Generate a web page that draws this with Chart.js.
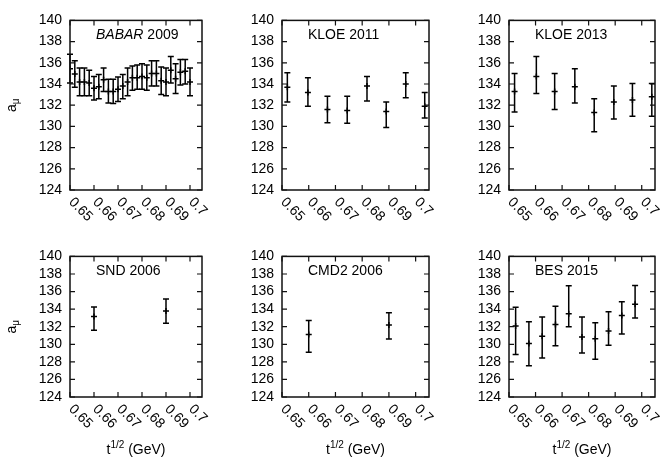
<!DOCTYPE html>
<html>
<head>
<meta charset="utf-8">
<script src="https://cdn.jsdelivr.net/npm/chart.js@4/dist/chart.umd.min.js"></script>
<style>
  html, body { margin: 0; padding: 0; background: #fff; }
  #wrap { position: relative; width: 663px; height: 457px; overflow: hidden; }
  #wrap canvas { position: absolute; }
</style>
</head>
<body>
<div id="wrap"></div>
<script>
// axis ticks
const xTicks = [0.65, 0.66, 0.67, 0.68, 0.69, 0.70];
const xTickLabels = ['0.65', '0.66', '0.67', '0.68', '0.69', '0.7'];
const yTicks = [124, 126, 128, 130, 132, 134, 136, 138, 140];

// panel titles (italic part + plain part)
const titleItalic = ['BABAR', '', '', '', '', ''];
const titlePlain = [' 2009', 'KLOE 2011', 'KLOE 2013', 'SND 2006', 'CMD2 2006', 'BES 2015'];

// BABAR 2009
const babarX = [0.650, 0.652, 0.654, 0.656, 0.658, 0.660, 0.662, 0.664, 0.666, 0.668, 0.670, 0.672, 0.674,
                0.676, 0.678, 0.680, 0.682, 0.684, 0.686, 0.688, 0.690, 0.692, 0.694, 0.696, 0.698, 0.700];
const babarY = [135.45, 134.95, 134.2, 134.2, 134.1, 133.6, 133.75, 134.4, 133.3, 133.3, 133.5, 133.8, 134.2,
                134.6, 134.6, 134.7, 134.6, 135.0, 135.0, 134.3, 134.2, 135.3, 134.5, 135.1, 135.2, 134.2];
const babarLo = [134.1, 133.7, 132.9, 132.9, 132.9, 132.5, 132.6, 133.3, 132.2, 132.15, 132.35, 132.6, 132.9,
                 133.4, 133.5, 133.5, 133.4, 133.8, 133.8, 133.0, 132.9, 134.1, 133.1, 133.9, 134.0, 132.9];
const babarHi = [136.8, 136.2, 135.5, 135.5, 135.3, 134.7, 134.9, 135.5, 134.45, 134.45, 134.65, 134.9, 135.5,
                 135.7, 135.8, 135.9, 135.8, 136.2, 136.2, 135.6, 135.5, 136.6, 135.9, 136.3, 136.3, 135.5];

// KLOE 2011
const kloe11X = [0.6520, 0.6597, 0.6670, 0.6744, 0.6818, 0.6890, 0.6963, 0.7034];
const kloe11Y = [133.7, 133.2, 131.6, 131.5, 133.8, 131.4, 134.0, 131.9];
const kloe11Lo = [132.3, 131.9, 130.35, 130.3, 132.4, 129.9, 132.7, 130.8];
const kloe11Hi = [135.05, 134.6, 132.85, 132.85, 134.7, 132.3, 135.05, 133.2];

// KLOE 2013
const kloe13X = [0.6521, 0.6603, 0.6672, 0.6748, 0.6821, 0.6895, 0.6965, 0.7038];
const kloe13Y = [133.3, 134.7, 133.3, 133.75, 131.3, 132.3, 132.5, 132.8];
const kloe13Lo = [131.35, 133.1, 131.6, 132.2, 129.5, 130.7, 130.95, 130.95];
const kloe13Hi = [135.0, 136.6, 135.0, 135.45, 132.6, 133.8, 134.05, 134.05];

// SND 2006
const sndX = [0.660, 0.690];
const sndY = [133.15, 133.8];
const sndLo = [131.6, 132.4];
const sndHi = [134.25, 135.15];

// CMD2 2006
const cmdX = [0.660, 0.690];
const cmdY = [131.1, 132.2];
const cmdLo = [129.1, 130.6];
const cmdHi = [132.7, 133.6];

// BES 2015
const besX = [0.6525, 0.6575, 0.6625, 0.6675, 0.6725, 0.6775, 0.6825, 0.6875, 0.6925, 0.6975];
const besY = [132.07, 130.08, 130.9, 132.26, 133.46, 130.84, 130.62, 131.5, 133.27, 134.55];
const besLo = [128.85, 127.57, 128.44, 129.82, 132.0, 129.0, 128.3, 129.9, 131.17, 132.98];
const besHi = [134.2, 132.55, 133.1, 134.33, 136.65, 133.1, 132.44, 133.7, 134.84, 136.69];

const FONT = '"Liberation Sans", Arial, Helvetica, sans-serif';
const wrap = document.getElementById('wrap');

function makeDecor(idx, xv, lo, hi, yTitle, xTitle) {
  return {
    id: 'decor' + idx,
    beforeDatasetsDraw(chart) {
      const { ctx } = chart;
      const xs = chart.scales.x, ys = chart.scales.y;
      ctx.save();
      ctx.strokeStyle = '#000';
      ctx.lineWidth = 1.5;
      xv.forEach((x, i) => {
        const px = xs.getPixelForValue(x);
        const p1 = ys.getPixelForValue(lo[i]);
        const p2 = ys.getPixelForValue(hi[i]);
        ctx.beginPath();
        ctx.moveTo(px, p1); ctx.lineTo(px, p2);
        ctx.moveTo(px - 3, p1); ctx.lineTo(px + 3, p1);
        ctx.moveTo(px - 3, p2); ctx.lineTo(px + 3, p2);
        ctx.stroke();
      });
      ctx.restore();
    },
    afterDraw(chart) {
      const { ctx, chartArea: a } = chart;
      const xs = chart.scales.x, ys = chart.scales.y;
      ctx.save();
      // frame
      ctx.strokeStyle = '#111';
      ctx.lineWidth = 1.5;
      ctx.strokeRect(a.left, a.top, a.right - a.left, a.bottom - a.top);
      // inward ticks
      ctx.lineWidth = 1.2;
      ctx.beginPath();
      yTicks.forEach(v => {
        const py = ys.getPixelForValue(v);
        ctx.moveTo(a.left, py); ctx.lineTo(a.left + 5, py);
        ctx.moveTo(a.right, py); ctx.lineTo(a.right - 5, py);
      });
      xTicks.forEach(v => {
        const px = xs.getPixelForValue(v);
        ctx.moveTo(px, a.bottom); ctx.lineTo(px, a.bottom - 5);
        ctx.moveTo(px, a.top); ctx.lineTo(px, a.top + 5);
      });
      ctx.stroke();
      // rotated x tick labels
      ctx.fillStyle = '#000';
      ctx.font = '14px ' + FONT;
      ctx.textAlign = 'left';
      ctx.textBaseline = 'top';
      xTicks.forEach((v, i) => {
        const px = xs.getPixelForValue(v);
        ctx.save();
        ctx.translate(px + 6, a.bottom + 5);
        ctx.rotate(Math.PI / 4);
        ctx.fillText(xTickLabels[i], 0, 0);
        ctx.restore();
      });
      // panel title
      ctx.textBaseline = 'alphabetic';
      let tx = a.left + 26;
      const ty = a.top + 19;
      if (titleItalic[idx]) {
        ctx.font = 'italic 14px ' + FONT;
        ctx.fillText(titleItalic[idx], tx, ty);
        tx += ctx.measureText(titleItalic[idx]).width;
      }
      ctx.font = '14px ' + FONT;
      ctx.fillText(titlePlain[idx], tx, ty);
      // y title a_mu
      if (yTitle) {
        const cy = (a.top + a.bottom) / 2;
        ctx.save();
        ctx.translate(16, cy);
        ctx.rotate(-Math.PI / 2);
        ctx.font = '14px ' + FONT;
        const wa = ctx.measureText('a').width;
        ctx.font = '10px ' + FONT;
        const wm = ctx.measureText('\u03bc').width;
        const sx = -(wa + wm) / 2;
        ctx.font = '14px ' + FONT;
        ctx.fillText('a', sx, 0);
        ctx.font = '10px ' + FONT;
        ctx.fillText('\u03bc', sx + wa, 3);
        ctx.restore();
      }
      // x title t^{1/2} (GeV)
      if (xTitle) {
        ctx.font = '14px ' + FONT;
        const w1 = ctx.measureText('t').width;
        const w3 = ctx.measureText(' (GeV)').width;
        ctx.font = '10px ' + FONT;
        const w2 = ctx.measureText('1/2').width;
        let sx = (a.left + a.right) / 2 - (w1 + w2 + w3) / 2;
        const by = 454 - chart.canvas.offsetTop;
        ctx.font = '14px ' + FONT;
        ctx.fillText('t', sx, by);
        ctx.font = '10px ' + FONT;
        ctx.fillText('1/2', sx + w1, by - 6);
        ctx.font = '14px ' + FONT;
        ctx.fillText(' (GeV)', sx + w1 + w2, by);
      }
      ctx.restore();
    }
  };
}

function makePanel(idx, box, xv, yv, lo, hi) {
  const padL = box.l >= 100 ? 60 : box.l;
  const padR = 8, padT = 10;
  const padB = box.t > 200 ? 457 - box.b : 50;
  const cv = document.createElement('canvas');
  const w = box.r - box.l + padL + padR;
  const h = box.b - box.t + padT + padB;
  cv.width = w; cv.height = h;
  cv.style.left = (box.l - padL) + 'px';
  cv.style.top = (box.t - padT) + 'px';
  cv.style.width = w + 'px';
  cv.style.height = h + 'px';
  wrap.appendChild(cv);

  new Chart(cv.getContext('2d'), {
    type: 'scatter',
    data: {
      datasets: [{
        data: xv.map((x, i) => ({ x: x, y: yv[i] })),
        pointStyle: 'cross',
        pointRadius: 3,
        pointHoverRadius: 3,
        borderColor: '#000',
        backgroundColor: '#000',
        borderWidth: 1.5
      }]
    },
    options: {
      responsive: false,
      animation: false,
      devicePixelRatio: 1,
      layout: { padding: { left: 0, right: padR, top: padT, bottom: 0 } },
      plugins: { legend: { display: false }, tooltip: { enabled: false } },
      scales: {
        x: {
          type: 'linear', min: 0.65, max: 0.705,
          afterBuildTicks: s => { s.ticks = xTicks.map(v => ({ value: v })); },
          afterFit: s => { s.height = padB; },
          ticks: { display: false },
          grid: { display: false, drawTicks: false },
          border: { display: false }
        },
        y: {
          type: 'linear', min: 124, max: 140,
          afterBuildTicks: s => { s.ticks = yTicks.map(v => ({ value: v })); },
          afterFit: s => { s.width = padL; },
          ticks: { autoSkip: false, padding: 8, color: '#000', font: { family: FONT, size: 14 } },
          grid: { display: false, drawTicks: false },
          border: { display: false }
        }
      }
    },
    plugins: [makeDecor(idx, xv, lo, hi, box.l < 100, box.t > 200)]
  });
}

makePanel(0, { l: 70, r: 202, t: 14, b: 190 }, babarX, babarY, babarLo, babarHi);
makePanel(1, { l: 282, r: 429, t: 14, b: 190 }, kloe11X, kloe11Y, kloe11Lo, kloe11Hi);
makePanel(2, { l: 509, r: 655, t: 14, b: 190 }, kloe13X, kloe13Y, kloe13Lo, kloe13Hi);
makePanel(3, { l: 70, r: 202, t: 250, b: 397 }, sndX, sndY, sndLo, sndHi);
makePanel(4, { l: 282, r: 429, t: 250, b: 397 }, cmdX, cmdY, cmdLo, cmdHi);
makePanel(5, { l: 509, r: 655, t: 250, b: 397 }, besX, besY, besLo, besHi);
</script>
</body>
</html>
